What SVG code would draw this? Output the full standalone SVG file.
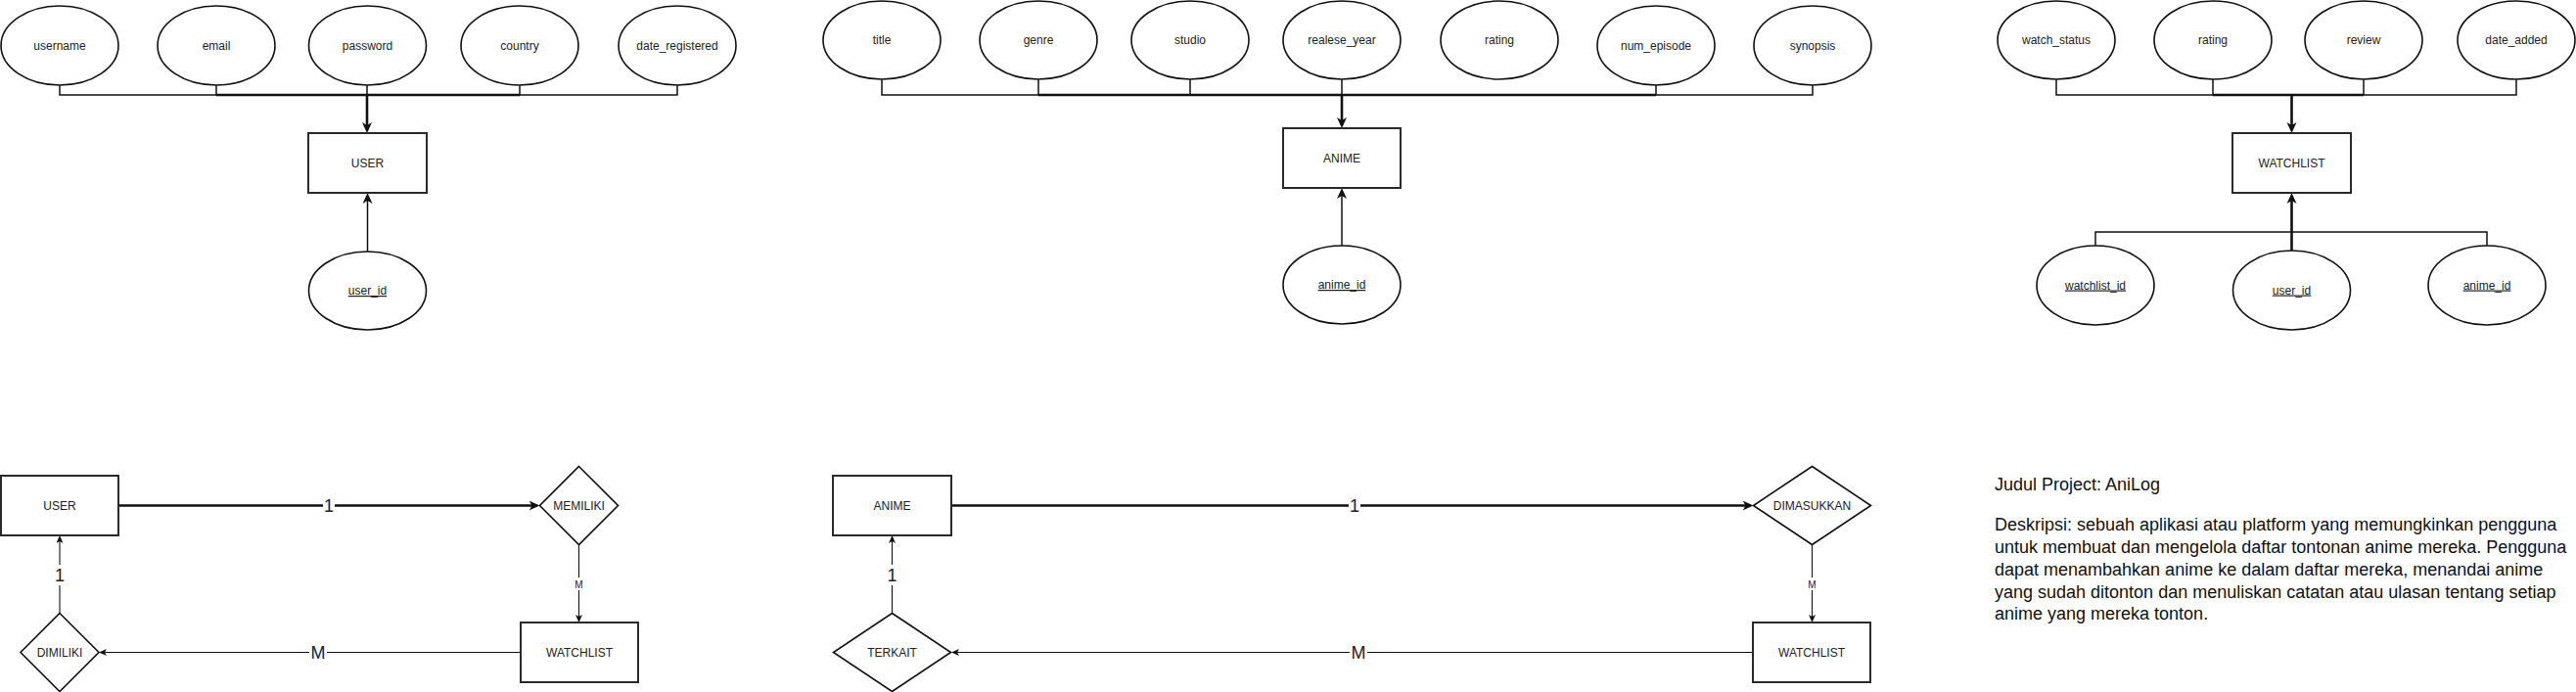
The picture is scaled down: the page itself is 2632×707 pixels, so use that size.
<svg xmlns="http://www.w3.org/2000/svg" width="2632" height="707" viewBox="0 0 2632 707">
<style>
.ell{fill:#fff;stroke:#111;stroke-width:1.6}
.ent{fill:#fff;stroke:#2a2a2a;stroke-width:2}
.rel{fill:#fff;stroke:#111;stroke-width:1.6}
.t{font-family:"Liberation Sans",Arial,sans-serif;font-size:12px;fill:#222;text-anchor:middle}
.u{text-decoration:underline}
.ln{fill:none;stroke:#111;stroke-width:1.5}
.lnb{fill:none;stroke:#111;stroke-width:2.6}
.lnt{fill:none;stroke:#111;stroke-width:1.1}
.big{font-family:"Liberation Sans",Arial,sans-serif;font-size:18px;fill:#222;text-anchor:middle}
.sm{font-family:"Liberation Sans",Arial,sans-serif;font-size:10px;fill:#222;text-anchor:middle}
.desc{font-family:"Liberation Sans",Arial,sans-serif;font-size:18px;fill:#111}
</style>
<defs>
<marker id="ab" markerUnits="userSpaceOnUse" markerWidth="12" markerHeight="11" refX="8" refY="5" orient="auto">
<path d="M0,0 L11,5 L0,10 L3,5 Z" fill="#111"/>
</marker>
<marker id="at" markerUnits="userSpaceOnUse" markerWidth="9" markerHeight="8" refX="6" refY="3.5" orient="auto">
<path d="M0,0 L8,3.5 L0,7 L2,3.5 Z" fill="#111"/>
</marker>
</defs>
<rect width="2632" height="707" fill="#fff"/>

<g id="connectors">
<!-- USER attributes bus -->
<path class="ln" d="M61,87 V97 H692 V87 M221,87 V97 M375,87 V97 M531,87 V97"/>
<path class="lnb" d="M221,97 H531"/>
<path class="lnb" d="M375,97 V133" marker-end="url(#ab)"/>
<path class="ln" d="M375.5,257 V200" marker-end="url(#ab)"/>
<!-- ANIME attributes bus -->
<path class="ln" d="M901,81 V97 H1852 V87 M1061,81 V97 M1216,81 V97 M1371,81 V97 M1692,87 V97"/>
<path class="lnb" d="M1061,97 H1692"/>
<path class="lnb" d="M1371,97 V128" marker-end="url(#ab)"/>
<path class="ln" d="M1371,251 V195" marker-end="url(#ab)"/>
<!-- WATCHLIST attributes bus -->
<path class="ln" d="M2101,81 V97 H2571 V81 M2261,81 V97 M2415,81 V97"/>
<path class="lnb" d="M2261,97 H2415"/>
<path class="lnb" d="M2341.5,97 V133" marker-end="url(#ab)"/>
<path class="ln" d="M2141,251 V237 H2541 V251"/>
<path class="lnb" d="M2341.5,256 V200" marker-end="url(#ab)"/>

<!-- USER relationships -->
<path class="lnb" d="M121,516.5 H548.5" marker-end="url(#ab)"/>
<rect x="330" y="506" width="12" height="21" fill="#fff"/>
<text class="big" x="336" y="523">1</text>
<path class="lnt" d="M591.5,556.5 V634" marker-end="url(#at)"/>
<rect x="587" y="590" width="9" height="13" fill="#fff"/>
<text class="sm" x="591.5" y="600.5">M</text>
<path class="lnt" d="M532,666.5 H103" marker-end="url(#at)"/>
<rect x="316" y="656" width="18" height="21" fill="#fff"/>
<text class="big" x="325" y="673">M</text>
<path class="lnt" d="M61,626.5 V549" marker-end="url(#at)"/>
<rect x="55" y="577" width="12" height="21" fill="#fff"/>
<text class="big" x="61" y="594">1</text>

<!-- ANIME relationships -->
<path class="lnb" d="M972,516.5 H1788.5" marker-end="url(#ab)"/>
<rect x="1378" y="506" width="12" height="21" fill="#fff"/>
<text class="big" x="1384" y="523">1</text>
<path class="lnt" d="M1851.5,556.5 V634" marker-end="url(#at)"/>
<rect x="1847" y="590" width="9" height="13" fill="#fff"/>
<text class="sm" x="1851.5" y="600.5">M</text>
<path class="lnt" d="M1791,666.5 H974" marker-end="url(#at)"/>
<rect x="1379" y="656" width="18" height="21" fill="#fff"/>
<text class="big" x="1388" y="673">M</text>
<path class="lnt" d="M911.5,626.5 V549" marker-end="url(#at)"/>
<rect x="905.5" y="577" width="12" height="21" fill="#fff"/>
<text class="big" x="911.5" y="594">1</text>
</g>

<!-- USER ER -->
<g id="attr-username"><ellipse class="ell" cx="61" cy="46.5" rx="60" ry="40.5"/><text class="t" x="61" y="50.5">username</text></g>
<g id="attr-email"><ellipse class="ell" cx="221" cy="46.5" rx="60" ry="40.5"/><text class="t" x="221" y="50.5">email</text></g>
<g id="attr-password"><ellipse class="ell" cx="375.5" cy="46.5" rx="60" ry="40.5"/><text class="t" x="375.5" y="50.5">password</text></g>
<g id="attr-country"><ellipse class="ell" cx="531" cy="46.5" rx="60" ry="40.5"/><text class="t" x="531" y="50.5">country</text></g>
<g id="attr-date_registered"><ellipse class="ell" cx="692" cy="46.5" rx="60" ry="40.5"/><text class="t" x="692" y="50.5">date_registered</text></g>
<g id="entity-user"><rect class="ent" x="315" y="136" width="121" height="61"/><text class="t" x="375.5" y="170.5">USER</text></g>
<g id="attr-user_id"><ellipse class="ell" cx="375.5" cy="297" rx="60" ry="40"/><text class="t u" x="375.5" y="301">user_id</text></g>

<!-- ANIME ER -->
<g id="attr-title"><ellipse class="ell" cx="901" cy="41" rx="60" ry="40"/><text class="t" x="901" y="45">title</text></g>
<g id="attr-genre"><ellipse class="ell" cx="1061" cy="41" rx="60" ry="40"/><text class="t" x="1061" y="45">genre</text></g>
<g id="attr-studio"><ellipse class="ell" cx="1216" cy="41" rx="60" ry="40"/><text class="t" x="1216" y="45">studio</text></g>
<g id="attr-realese_year"><ellipse class="ell" cx="1371" cy="41" rx="60" ry="40"/><text class="t" x="1371" y="45">realese_year</text></g>
<g id="attr-rating"><ellipse class="ell" cx="1532" cy="41" rx="60" ry="40"/><text class="t" x="1532" y="45">rating</text></g>
<g id="attr-num_episode"><ellipse class="ell" cx="1692" cy="46.5" rx="60" ry="40.5"/><text class="t" x="1692" y="50.5">num_episode</text></g>
<g id="attr-synopsis"><ellipse class="ell" cx="1852" cy="46.5" rx="60" ry="40.5"/><text class="t" x="1852" y="50.5">synopsis</text></g>
<g id="entity-anime"><rect class="ent" x="1311" y="131" width="120" height="61"/><text class="t" x="1371" y="165.5">ANIME</text></g>
<g id="attr-anime_id"><ellipse class="ell" cx="1371" cy="291" rx="60" ry="40"/><text class="t u" x="1371" y="295">anime_id</text></g>

<!-- WATCHLIST ER -->
<g id="attr-watch_status"><ellipse class="ell" cx="2101" cy="41" rx="60" ry="40"/><text class="t" x="2101" y="45">watch_status</text></g>
<g id="attr-wl-rating"><ellipse class="ell" cx="2261" cy="41" rx="60" ry="40"/><text class="t" x="2261" y="45">rating</text></g>
<g id="attr-review"><ellipse class="ell" cx="2415" cy="41" rx="60" ry="40"/><text class="t" x="2415" y="45">review</text></g>
<g id="attr-date_added"><ellipse class="ell" cx="2571" cy="41" rx="60" ry="40"/><text class="t" x="2571" y="45">date_added</text></g>
<g id="entity-watchlist"><rect class="ent" x="2281" y="136" width="121" height="61"/><text class="t" x="2341.5" y="170.5">WATCHLIST</text></g>
<g id="attr-watchlist_id"><ellipse class="ell" cx="2141" cy="291.5" rx="60" ry="40.5"/><text class="t u" x="2141" y="295.5">watchlist_id</text></g>
<g id="attr-wl-user_id"><ellipse class="ell" cx="2341.5" cy="296.5" rx="60" ry="40.5"/><text class="t u" x="2341.5" y="300.5">user_id</text></g>
<g id="attr-wl-anime_id"><ellipse class="ell" cx="2541" cy="291.5" rx="60" ry="40.5"/><text class="t u" x="2541" y="295.5">anime_id</text></g>

<!-- Relationship diagram USER -->
<g id="rel-user"><rect class="ent" x="1" y="486" width="120" height="61"/><text class="t" x="61" y="521">USER</text></g>
<g id="rel-memiliki"><polygon class="rel" points="591.5,476.5 631.5,516.5 591.5,556.5 551.5,516.5"/><text class="t" x="591.5" y="521">MEMILIKI</text></g>
<g id="rel-watchlist1"><rect class="ent" x="532" y="636" width="120" height="61"/><text class="t" x="592" y="671">WATCHLIST</text></g>
<g id="rel-dimiliki"><polygon class="rel" points="61,626.5 101,666.5 61,706.5 21,666.5"/><text class="t" x="61" y="671">DIMILIKI</text></g>

<!-- Relationship diagram ANIME -->
<g id="rel-anime"><rect class="ent" x="851" y="486" width="121" height="61"/><text class="t" x="911.5" y="521">ANIME</text></g>
<g id="rel-dimasukkan"><polygon class="rel" points="1851.5,476.5 1911.5,516.5 1851.5,556.5 1791.5,516.5"/><text class="t" x="1851.5" y="521">DIMASUKKAN</text></g>
<g id="rel-watchlist2"><rect class="ent" x="1791" y="636" width="120" height="61"/><text class="t" x="1851" y="671">WATCHLIST</text></g>
<g id="rel-terkait"><polygon class="rel" points="911.5,626.5 971.5,666.5 911.5,706.5 851.5,666.5"/><text class="t" x="911.5" y="671">TERKAIT</text></g>

<!-- Description -->
<g id="description">
<text class="desc" x="2038" y="501">Judul Project: AniLog</text>
<text class="desc" x="2038" y="542">Deskripsi: sebuah aplikasi atau platform yang memungkinkan pengguna</text>
<text class="desc" x="2038" y="565">untuk membuat dan mengelola daftar tontonan anime mereka. Pengguna</text>
<text class="desc" x="2038" y="588">dapat menambahkan anime ke dalam daftar mereka, menandai anime</text>
<text class="desc" x="2038" y="611">yang sudah ditonton dan menuliskan catatan atau ulasan tentang setiap</text>
<text class="desc" x="2038" y="633">anime yang mereka tonton.</text>
</g>
</svg>
